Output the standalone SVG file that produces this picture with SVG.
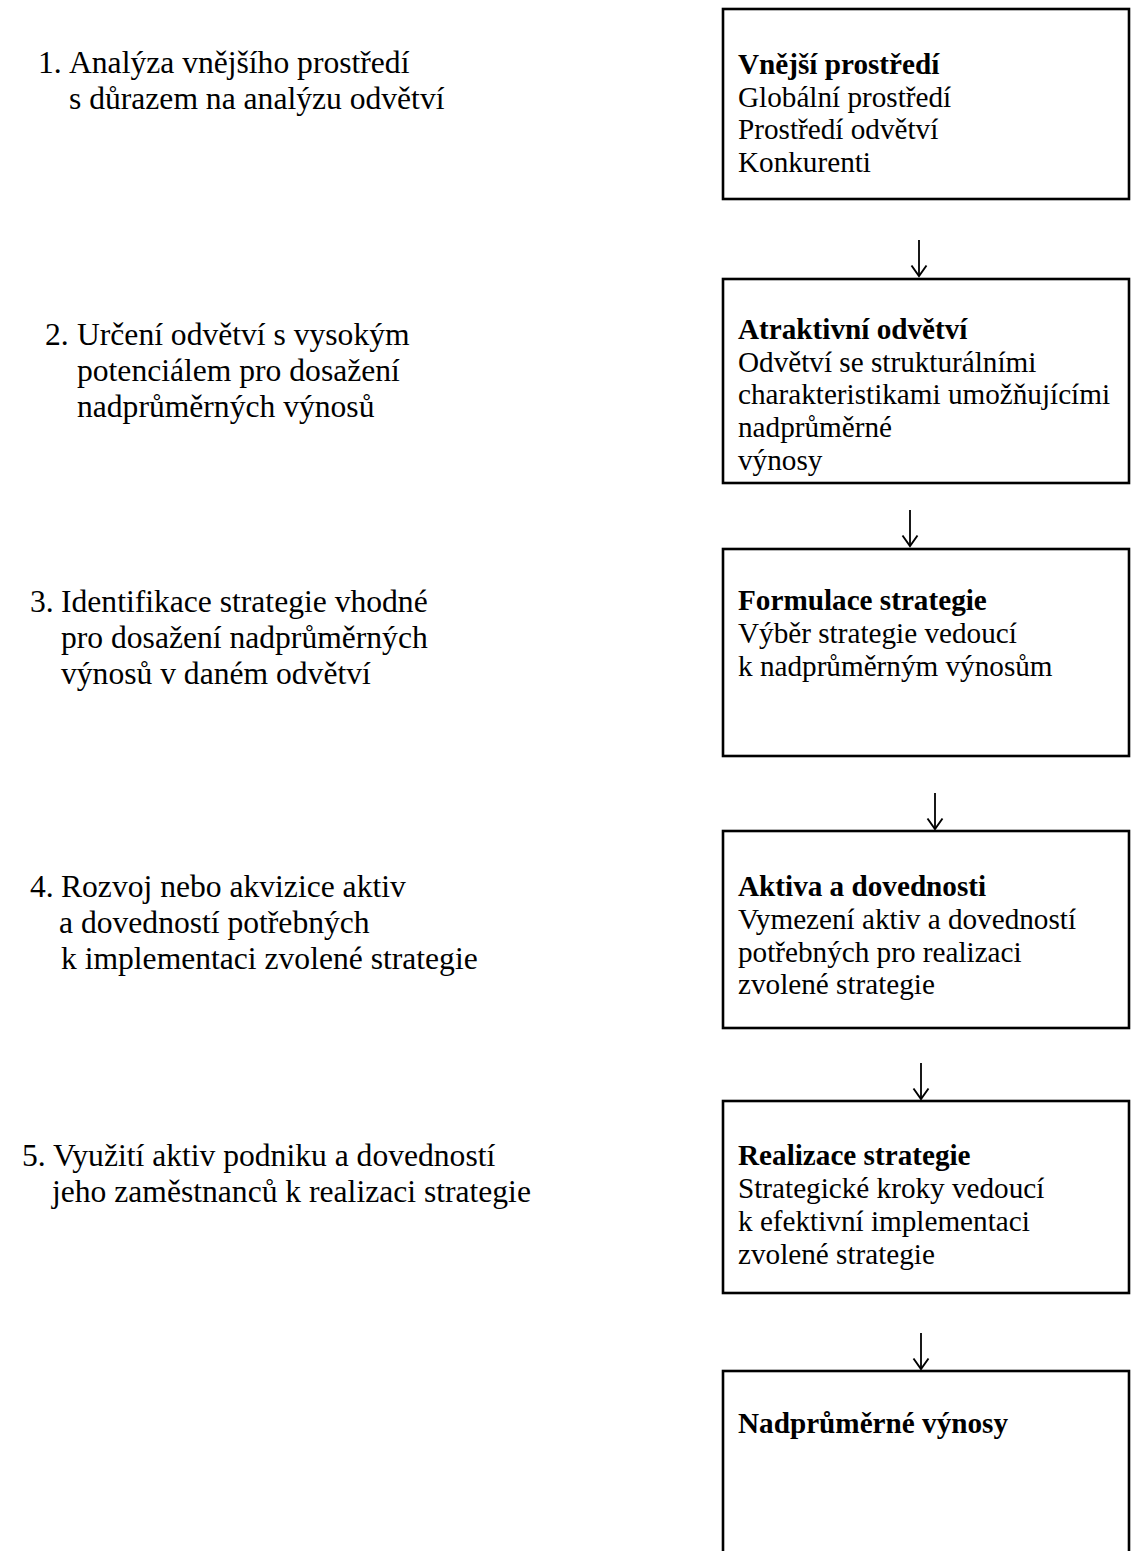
<svg xmlns="http://www.w3.org/2000/svg" width="1136" height="1551" viewBox="0 0 1136 1551">
  <defs>
    <style>
      .box { fill: #ffffff; stroke: #000000; stroke-width: 2.6; }
      .step { font-family: "Liberation Serif", "Times New Roman", serif; font-size: 31.6px; fill: #000000; }
      .txt { font-family: "Liberation Serif", "Times New Roman", serif; font-size: 29.2px; fill: #000000; }
      .head { font-weight: bold; }
      .link { fill: none; stroke: #000000; stroke-width: 1.8; marker-end: url(#tip); }
    </style>
    <!-- open V arrowhead, drawn pointing along +x -->
    <marker id="tip" markerUnits="userSpaceOnUse" viewBox="-12 -9 14 18" refX="0" refY="0" markerWidth="14" markerHeight="18" orient="auto" overflow="visible">
      <path d="M -10.5 -7.5 L 0 0 L -10.5 7.5" fill="none" stroke="#000000" stroke-width="1.9" stroke-linejoin="miter"/>
    </marker>
  </defs>

  <rect width="1136" height="1551" fill="#ffffff"/>

  <!-- step descriptions on the left -->
  <g id="step-1" class="step">
    <text x="38" y="73">1.</text>
    <text x="69" y="73">Analýza vnějšího prostředí</text>
    <text x="69" y="109">s důrazem na analýzu odvětví</text>
  </g>
  <g id="step-2" class="step">
    <text x="45" y="345">2.</text>
    <text x="77" y="345">Určení odvětví s vysokým</text>
    <text x="77" y="381">potenciálem pro dosažení</text>
    <text x="77" y="417">nadprůměrných výnosů</text>
  </g>
  <g id="step-3" class="step">
    <text x="30" y="612">3.</text>
    <text x="61" y="612">Identifikace strategie vhodné</text>
    <text x="61" y="648">pro dosažení nadprůměrných</text>
    <text x="61" y="684">výnosů v daném odvětví</text>
  </g>
  <g id="step-4" class="step">
    <text x="30" y="897">4.</text>
    <text x="61" y="897">Rozvoj nebo akvizice aktiv</text>
    <text x="59" y="933">a dovedností potřebných</text>
    <text x="61" y="969">k implementaci zvolené strategie</text>
  </g>
  <g id="step-5" class="step">
    <text x="22" y="1166">5.</text>
    <text x="53" y="1166">Využití aktiv podniku a dovedností</text>
    <text x="52" y="1202">jeho zaměstnanců k realizaci strategie</text>
  </g>

  <!-- process boxes on the right -->
  <g id="box-external" class="txt">
    <rect class="box" x="723" y="9" width="406" height="190"/>
    <text x="738" y="74" class="head">Vnější prostředí</text>
    <text x="738" y="106.5">Globální prostředí</text>
    <text x="738" y="139">Prostředí odvětví</text>
    <text x="738" y="171.5">Konkurenti</text>
  </g>
  <g id="box-industry" class="txt">
    <rect class="box" x="723" y="279" width="406" height="204"/>
    <text x="738" y="339" class="head">Atraktivní odvětví</text>
    <text x="738" y="371.7">Odvětví se strukturálními</text>
    <text x="738" y="404.4">charakteristikami umožňujícími</text>
    <text x="738" y="437.1">nadprůměrné</text>
    <text x="738" y="469.8">výnosy</text>
  </g>
  <g id="box-formulation" class="txt">
    <rect class="box" x="723" y="549" width="406" height="207"/>
    <text x="738" y="610" class="head">Formulace strategie</text>
    <text x="738" y="643">Výběr strategie vedoucí</text>
    <text x="738" y="676">k nadprůměrným výnosům</text>
  </g>
  <g id="box-assets" class="txt">
    <rect class="box" x="723" y="831" width="406" height="197"/>
    <text x="738" y="896" class="head">Aktiva a dovednosti</text>
    <text x="738" y="928.8">Vymezení aktiv a dovedností</text>
    <text x="738" y="961.6">potřebných pro realizaci</text>
    <text x="738" y="994.4">zvolené strategie</text>
  </g>
  <g id="box-implementation" class="txt">
    <rect class="box" x="723" y="1101" width="406" height="192"/>
    <text x="738" y="1165" class="head">Realizace strategie</text>
    <text x="738" y="1198">Strategické kroky vedoucí</text>
    <text x="738" y="1231">k efektivní implementaci</text>
    <text x="738" y="1264">zvolené strategie</text>
  </g>
  <g id="box-returns" class="txt">
    <rect class="box" x="723" y="1371" width="406" height="200"/>
    <text x="738" y="1433" class="head">Nadprůměrné výnosy</text>
  </g>

  <!-- downward arrows between the boxes -->
  <g id="connectors">
    <path class="link" d="M 919 240 V 276"/>
    <path class="link" d="M 910 510 V 546"/>
    <path class="link" d="M 935 793 V 829"/>
    <path class="link" d="M 921 1063 V 1099"/>
    <path class="link" d="M 921 1333 V 1369"/>
  </g>
</svg>
